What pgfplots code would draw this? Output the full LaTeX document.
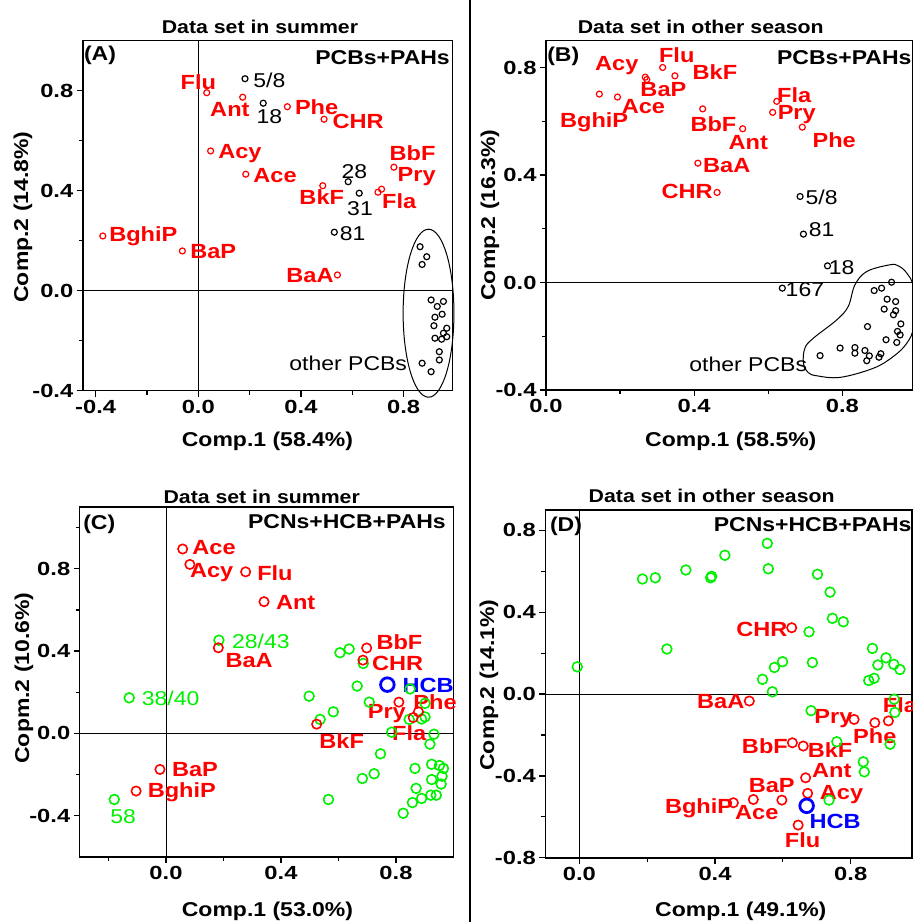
\documentclass[border=0pt]{standalone}
\usepackage{fontspec}
\setmainfont{Liberation Sans}[FakeStretch=1.15]
\newfontfamily\tickfont{Liberation Sans}[FakeStretch=1.25]
\usepackage{pgfplots}
\pgfplotsset{compat=1.18}
\definecolor{mygreen}{RGB}{0,240,0}
\newcommand{\fb}{\bfseries\fontsize{20}{22}\selectfont}
\newcommand{\fbr}{\bfseries\fontsize{20.5}{22}\selectfont}
\newcommand{\fr}{\fontsize{20}{22}\selectfont}
\newcommand{\ft}{\bfseries\fontsize{18.5}{20}\selectfont}
\tikzset{
 rl/.style={text=red, font=\fbr, inner sep=0pt},
 kl/.style={text=black, font=\fr, inner sep=0pt},
 gl/.style={text=mygreen, font=\fr, inner sep=0pt},
}
\pgfplotsset{
 panel/.style={
  scale only axis, anchor=north west,
  axis line style={line width=1.5pt},
  every tick/.style={black, line width=1.2pt},
  major tick length=6pt, minor tick length=4pt,
  tick align=outside, xtick pos=bottom, ytick pos=left,
  tick label style={font=\tickfont\bfseries\fontsize{19}{19}\selectfont},
  /pgf/number format/.cd, fixed, fixed zerofill, precision=1, assume math mode=true, /pgfplots/.cd,
  clip=false,
 },
 smallred/.style={only marks, mark=o, mark size=3pt, draw=red, mark options={line width=1.2pt}},
 smallblk/.style={only marks, mark=o, mark size=3pt, draw=black, mark options={line width=1.2pt}},
 bigred/.style={only marks, mark=o, mark size=4.7pt, draw=red, mark options={line width=1.6pt}},
 biggrn/.style={only marks, mark=o, mark size=4.9pt, draw=mygreen, mark options={line width=1.6pt}},
 bigblue/.style={only marks, mark=o, mark size=6.8pt, draw=blue, mark options={line width=2.8pt}},
}
\begin{document}
\begin{tikzpicture}
\useasboundingbox (0pt,0pt) rectangle (913pt,-922pt);
\draw[line width=2.5pt] (470pt,0pt) -- (470pt,-922pt);

% ---------------- Panel A ----------------
\begin{axis}[panel, at={(82.8pt,-40.7pt)}, width=369.6pt, height=350pt,
  xmin=-0.45, xmax=0.99, ymin=-0.4, ymax=1.0,
  xtick={-0.4,0,0.4,0.8}, minor xtick={-0.2,0.2,0.6},
  ytick={-0.4,0,0.4,0.8}, minor ytick={-0.2,0.2,0.6}]
\draw[line width=1pt] (axis cs:0,-0.4) -- (axis cs:0,1.0);
\draw[line width=1pt] (axis cs:-0.45,0) -- (axis cs:0.99,0);
\addplot[smallred] coordinates {(0.033,0.792) (0.173,0.774) (0.347,0.736) (0.49,0.686) (0.048,0.559) (0.185,0.466) (0.762,0.494) (0.70,0.394) (0.714,0.406) (0.485,0.42) (-0.372,0.219) (-0.062,0.159) (0.542,0.063)};
\addplot[smallblk] coordinates {(0.182,0.848) (0.253,0.75) (0.584,0.436) (0.627,0.39) (0.53,0.234)
 (0.864,0.176) (0.89,0.136) (0.872,0.105) (0.907,-0.037) (0.955,-0.043) (0.931,-0.063) (0.95,-0.094) (0.922,-0.106) (0.918,-0.14) (0.968,-0.15) (0.955,-0.17) (0.922,-0.19) (0.948,-0.194) (0.968,-0.184) (0.939,-0.244) (0.939,-0.277) (0.872,-0.29) (0.907,-0.324)};
\draw[line width=1pt] (axis cs:0.897,-0.09) ellipse [x radius=0.099, y radius=0.336];
\node[rl] at (axis cs:0.0,0.836) {Flu};
\node[rl] at (axis cs:0.123,0.723) {Ant};
\node[rl] at (axis cs:0.461,0.734) {Phe};
\node[rl] at (axis cs:0.623,0.676) {CHR};
\node[rl] at (axis cs:0.162,0.55) {Acy};
\node[rl] at (axis cs:0.299,0.459) {Ace};
\node[rl] at (axis cs:0.835,0.55) {BbF};
\node[rl] at (axis cs:0.851,0.456) {Pry};
\node[rl] at (axis cs:0.481,0.376) {BkF};
\node[rl] at (axis cs:0.783,0.359) {Fla};
\node[rl] at (axis cs:-0.214,0.216) {BghiP};
\node[rl] at (axis cs:0.058,0.156) {BaP};
\node[rl] at (axis cs:0.435,0.059) {BaA};
\node[kl] at (axis cs:0.277,0.843) {5/8};
\node[kl] at (axis cs:0.277,0.696) {18};
\node[kl] at (axis cs:0.608,0.476) {28};
\node[kl] at (axis cs:0.63,0.33) {31};
\node[kl] at (axis cs:0.601,0.23) {81};
\node[kl, anchor=east] at (axis cs:0.814,-0.29) {other PCBs};
\end{axis}

% ---------------- Panel B ----------------
\begin{axis}[panel, at={(546pt,-40.6pt)}, width=366.7pt, height=349.4pt,
  xmin=0, xmax=0.99, ymin=-0.4, ymax=0.9,
  xtick={0,0.4,0.8}, minor xtick={0.2,0.6},
  ytick={-0.4,0,0.4,0.8}, minor ytick={-0.2,0.2,0.6}]
\draw[line width=1pt] (axis cs:0,0) -- (axis cs:0.99,0);
\addplot[smallred] coordinates {(0.144,0.701) (0.193,0.69) (0.268,0.764) (0.272,0.755) (0.315,0.80) (0.348,0.769) (0.423,0.646) (0.531,0.572) (0.623,0.674) (0.612,0.633) (0.692,0.578) (0.41,0.444) (0.462,0.335)};
\addplot[smallblk] coordinates {(0.686,0.32) (0.695,0.18) (0.76,0.062) (0.638,-0.021)
 (0.933,0.001) (0.906,-0.021) (0.886,-0.03) (0.921,-0.062) (0.944,-0.071) (0.913,-0.099) (0.944,-0.105) (0.938,-0.12) (0.958,-0.154) (0.868,-0.164) (0.949,-0.182) (0.956,-0.195) (0.947,-0.223) (0.918,-0.213) (0.794,-0.244) (0.834,-0.242) (0.834,-0.263) (0.861,-0.253) (0.873,-0.273) (0.904,-0.265) (0.899,-0.278) (0.866,-0.291) (0.74,-0.272)};
\draw[line width=1pt] plot[smooth cycle, tension=0.6] coordinates {(axis cs:0.699,-0.244) (axis cs:0.722,-0.207) (axis cs:0.785,-0.139) (axis cs:0.816,-0.089) (axis cs:0.834,-0.009) (axis cs:0.866,0.041) (axis cs:0.929,0.066) (axis cs:0.951,0.062) (axis cs:0.974,0.035) (axis cs:0.992,-0.021) (axis cs:0.992,-0.164) (axis cs:0.974,-0.226) (axis cs:0.938,-0.275) (axis cs:0.884,-0.319) (axis cs:0.794,-0.353) (axis cs:0.731,-0.347) (axis cs:0.708,-0.335) (axis cs:0.695,-0.30)};
\node[rl] at (axis cs:0.191,0.807) {Acy};
\node[rl] at (axis cs:0.353,0.844) {Flu};
\node[rl] at (axis cs:0.456,0.783) {BkF};
\node[rl] at (axis cs:0.317,0.717) {BaP};
\node[rl] at (axis cs:0.263,0.655) {Ace};
\node[rl] at (axis cs:0.13,0.595) {BghiP};
\node[rl] at (axis cs:0.452,0.59) {BbF};
\node[rl] at (axis cs:0.546,0.521) {Ant};
\node[rl] at (axis cs:0.67,0.698) {Fla};
\node[rl] at (axis cs:0.677,0.624) {Pry};
\node[rl] at (axis cs:0.778,0.528) {Phe};
\node[rl] at (axis cs:0.488,0.435) {BaA};
\node[rl] at (axis cs:0.381,0.339) {CHR};
\node[kl] at (axis cs:0.744,0.316) {5/8};
\node[kl] at (axis cs:0.744,0.196) {81};
\node[kl] at (axis cs:0.798,0.056) {18};
\node[kl] at (axis cs:0.699,-0.027) {167};
\node[kl] at (axis cs:0.546,-0.306) {other PCBs};
\end{axis}

% ---------------- Panel C ----------------
\begin{axis}[panel, at={(79.75pt,-507pt)}, width=373.75pt, height=349.9pt,
  xmin=-0.3, xmax=1.0, ymin=-0.6, ymax=1.1,
  xtick={0,0.4,0.8}, minor xtick={-0.2,0.2,0.6},
  ytick={-0.4,0,0.4,0.8}, minor ytick={-0.2,0.2,0.6,1.0}]
\draw[line width=1pt] (axis cs:0,-0.6) -- (axis cs:0,1.1);
\draw[line width=1pt] (axis cs:-0.3,0) -- (axis cs:1.0,0);
\addplot[biggrn] coordinates {(0.184,0.453) (0.605,0.392) (0.637,0.41) (0.686,0.34) (0.665,0.23) (0.849,0.216) (0.498,0.181) (-0.128,0.173) (0.707,0.152) (0.901,0.146) (0.582,0.105) (0.536,0.068) (0.846,0.068) (0.889,0.07) (0.901,0.08) (0.785,0.006) (0.932,-0.004) (0.918,-0.052) (0.746,-0.099) (0.866,-0.17) (0.924,-0.15) (0.951,-0.156) (0.965,-0.17) (0.724,-0.196) (0.683,-0.219) (0.924,-0.224) (0.96,-0.208) (0.957,-0.246) (0.87,-0.267) (0.921,-0.30) (0.94,-0.30) (0.889,-0.316) (0.857,-0.336) (0.565,-0.321) (0.825,-0.388) (-0.18,-0.321)};
\addplot[bigred] coordinates {(0.058,0.896) (0.083,0.821) (0.277,0.785) (0.341,0.64) (0.182,0.416) (0.698,0.415) (0.685,0.356) (0.81,0.152) (0.878,0.105) (0.86,0.077) (0.524,0.045) (-0.021,-0.175) (-0.104,-0.28)};
\addplot[bigblue] coordinates {(0.77,0.237)};
\node[rl] at (axis cs:0.167,0.904) {Ace};
\node[rl] at (axis cs:0.159,0.78) {Acy};
\node[rl] at (axis cs:0.379,0.777) {Flu};
\node[rl] at (axis cs:0.451,0.635) {Ant};
\node[rl] at (axis cs:0.289,0.356) {BaA};
\node[rl] at (axis cs:0.812,0.445) {BbF};
\node[rl] at (axis cs:0.806,0.34) {CHR};
\node[rl] at (axis cs:0.936,0.154) {Phe};
\node[rl] at (axis cs:0.768,0.097) {Pry};
\node[rl] at (axis cs:0.846,0.0) {Fla};
\node[rl] at (axis cs:0.611,-0.037) {BkF};
\node[rl] at (axis cs:0.101,-0.175) {BaP};
\node[rl] at (axis cs:0.055,-0.284) {BghiP};
\node[text=blue, font=\fbr, inner sep=0pt] at (axis cs:0.912,0.235) {HCB};
\node[gl] at (axis cs:0.33,0.445) {28/43};
\node[gl] at (axis cs:0.016,0.17) {38/40};
\node[gl] at (axis cs:-0.149,-0.405) {58};
\end{axis}

% ---------------- Panel D ----------------
\begin{axis}[panel, at={(545.4pt,-509.8pt)}, width=366.4pt, height=348pt,
  xmin=-0.1, xmax=0.98, ymin=-0.8, ymax=0.9,
  xtick={0,0.4,0.8}, minor xtick={0.2,0.6},
  ytick={-0.8,-0.4,0,0.4,0.8}, minor ytick={-0.6,-0.2,0.2,0.6}]
\draw[line width=1pt] (axis cs:0,-0.8) -- (axis cs:0,0.9);
\draw[line width=1pt] (axis cs:-0.1,0) -- (axis cs:0.98,0);
\addplot[biggrn] coordinates {(-0.006,0.133) (0.186,0.562) (0.224,0.568) (0.314,0.606) (0.387,0.568) (0.39,0.575) (0.429,0.678) (0.554,0.736) (0.557,0.612) (0.702,0.585) (0.739,0.498) (0.746,0.37) (0.778,0.353) (0.677,0.304) (0.258,0.22) (0.864,0.223) (0.904,0.177) (0.88,0.142) (0.927,0.145) (0.945,0.12) (0.869,0.077) (0.853,0.066) (0.599,0.158) (0.575,0.13) (0.687,0.154) (0.54,0.072) (0.569,0.011) (0.683,-0.081) (0.759,-0.233) (0.837,-0.331) (0.84,-0.38) (0.916,-0.245) (0.93,-0.09) (0.928,-0.025) (0.736,-0.518)};
\addplot[bigred] coordinates {(0.626,0.324) (0.501,-0.034) (0.81,-0.124) (0.871,-0.14) (0.911,-0.131) (0.628,-0.238) (0.66,-0.254) (0.667,-0.409) (0.597,-0.518) (0.673,-0.485) (0.513,-0.515) (0.454,-0.531) (0.645,-0.64)};
\addplot[bigblue] coordinates {(0.67,-0.546)};
\node[rl] at (axis cs:0.538,0.316) {CHR};
\node[rl] at (axis cs:0.417,-0.037) {BaA};
\node[rl] at (axis cs:0.945,-0.054) {Fla};
\node[rl] at (axis cs:0.749,-0.119) {Pry};
\node[rl] at (axis cs:0.871,-0.205) {Phe};
\node[rl] at (axis cs:0.547,-0.257) {BbF};
\node[rl] at (axis cs:0.739,-0.274) {BkF};
\node[rl] at (axis cs:0.744,-0.375) {Ant};
\node[rl] at (axis cs:0.567,-0.449) {BaP};
\node[rl] at (axis cs:0.773,-0.493) {Acy};
\node[rl] at (axis cs:0.353,-0.558) {BghiP};
\node[rl] at (axis cs:0.523,-0.58) {Ace};
\node[rl] at (axis cs:0.658,-0.713) {Flu};
\node[text=blue, font=\fbr, inner sep=0pt] at (axis cs:0.754,-0.624) {HCB};
\end{axis}

% ---------------- Texts ----------------
\node[font=\ft, inner sep=0pt] at (260pt,-27.3pt) {Data set in summer};
\node[font=\ft, inner sep=0pt] at (700.8pt,-26.7pt) {Data set in other season};
\node[font=\ft, inner sep=0pt] at (261.7pt,-496.7pt) {Data set in summer};
\node[font=\ft, inner sep=0pt] at (711.7pt,-496pt) {Data set in other season};
\node[font=\fb, inner sep=0pt] at (267.5pt,-441pt) {Comp.1 (58.4\%)};
\node[font=\fb, inner sep=0pt] at (730.8pt,-441pt) {Comp.1 (58.5\%)};
\node[font=\fb, inner sep=0pt] at (267.5pt,-911pt) {Comp.1 (53.0\%)};
\node[font=\fb, inner sep=0pt] at (740.8pt,-911pt) {Comp.1 (49.1\%)};
\node[font=\fb, inner sep=0pt, rotate=90] at (23pt,-217pt) {Comp.2 (14.8\%)};
\node[font=\fb, inner sep=0pt, rotate=90] at (490pt,-215pt) {Comp.2 (16.3\%)};
\node[font=\fb, inner sep=0pt, rotate=90] at (24pt,-678pt) {Copm.2 (10.6\%)};
\node[font=\fb, inner sep=0pt, rotate=90] at (489pt,-685pt) {Comp.2 (14.1\%)};
\node[font=\fb, inner sep=0pt] at (100pt,-55.7pt) {(A)};
\node[font=\fb, inner sep=0pt, anchor=east] at (450pt,-57.3pt) {PCBs+PAHs};
\node[font=\fb, inner sep=0pt] at (563.3pt,-56.7pt) {(B)};
\node[font=\fb, inner sep=0pt, anchor=east] at (911.7pt,-57.3pt) {PCBs+PAHs};
\node[font=\fb, inner sep=0pt] at (99.3pt,-524pt) {(C)};
\node[font=\fb, inner sep=0pt, anchor=east] at (446pt,-521.7pt) {PCNs+HCB+PAHs};
\node[font=\fb, inner sep=0pt] at (566pt,-526pt) {(D)};
\node[font=\fb, inner sep=0pt, anchor=east] at (911.7pt,-525pt) {PCNs+HCB+PAHs};
\end{tikzpicture}
\end{document}
